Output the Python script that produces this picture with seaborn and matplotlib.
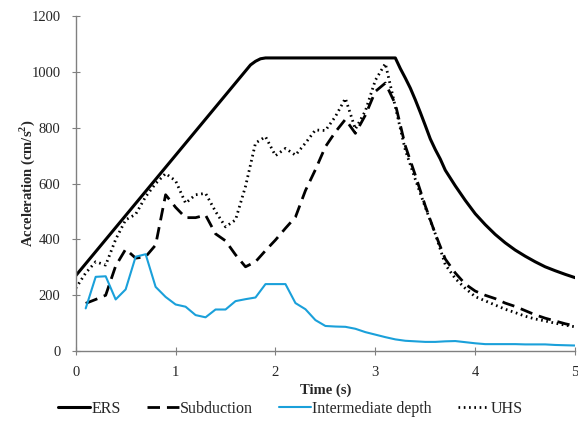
import numpy as np
import pandas as pd
import matplotlib
matplotlib.use("Agg")
import matplotlib.pyplot as plt
import seaborn as sns
from matplotlib.lines import Line2D

# ---- data ----
ers_t = [0.0, 1.75, 1.8, 1.85, 1.9, 3.2, 3.25, 3.3, 3.35, 3.4, 3.45, 3.5, 3.55, 3.6,
         3.65, 3.7, 3.8, 3.9, 4.0, 4.1, 4.2, 4.3, 4.4, 4.5, 4.6, 4.7, 4.8, 4.9, 5.0]
ers_v = [270, 1025, 1038, 1047, 1050, 1050, 1012, 978, 942, 900, 855, 808, 760, 722,
         688, 648, 592, 540, 492, 453, 418, 388, 362, 340, 320, 302, 288, 275, 263]

sub_t = [round(0.1 * i, 1) for i in range(1, 51)]
sub_v = [171, 185, 200, 305, 365, 333, 338, 380, 560, 515,
         478, 478, 487, 420, 395, 345, 302, 320, 360, 398,
         440, 480, 575, 650, 732, 785, 830, 780, 845, 930,
         960, 885, 735, 630, 520, 420, 330, 280, 240, 215,
         200, 188, 172, 160, 145, 130, 118, 108, 98, 90]

int_t = [round(0.1 * i, 1) for i in range(1, 51)]
int_v = [153, 266, 268, 185, 221, 338, 347, 230, 194, 167,
         159, 129, 121, 149, 149, 179, 186, 192, 240, 240,
         240, 172, 150, 111, 90, 88, 87, 80, 68, 59,
         50, 42, 37, 35, 33, 33, 35, 36, 32, 28,
         25, 25, 25, 25, 24, 24, 24, 22, 21, 20]

uhs_t = [round(0.1 * i, 1) for i in range(0, 51)]
uhs_v = [225, 280, 320, 308, 400, 470, 490, 553, 600, 636,
         610, 530, 560, 565, 500, 445, 470, 590, 745, 768,
         700, 726, 702, 745, 792, 790, 840, 905, 795, 860,
         970, 1030, 875, 720, 615, 515, 420, 310, 260, 225,
         195, 180, 165, 150, 138, 125, 115, 108, 100, 93, 87]

labels = ["ERS", "Subduction", "Intermediate depth", "UHS"]

sns.set_style("ticks")
plt.rcParams["font.family"] = ["Liberation Serif", "DejaVu Serif"]
plt.rcParams["mathtext.fontset"] = "custom"
plt.rcParams["mathtext.rm"] = "Liberation Serif"
plt.rcParams["mathtext.bf"] = "Liberation Serif:bold"

fig = plt.figure(figsize=(5.78, 4.34), dpi=100)
ax = fig.add_axes([0.131, 0.191, 0.864, 0.772])

blue = "#1aa0da"
SUB_DASH = (4.5, 2.5)
UHS_DOT = (0.6, 1.3)
specs = [
    (ers_t, ers_v, dict(color="black", lw=2.2), None),
    (sub_t, sub_v, dict(color="black", lw=2.0), SUB_DASH),
    (int_t, int_v, dict(color=blue, lw=1.5), None),
    (uhs_t, uhs_v, dict(color="black", lw=2.0), UHS_DOT),
]
for (t, v, st, dashes), lab in zip(specs, labels):
    df = pd.DataFrame({"t": t, "v": v})
    sns.lineplot(data=df, x="t", y="v", ax=ax, label=lab, **st)
    if dashes is not None:
        ax.lines[-1].set_dashes(dashes)

ax.set_xlim(0, 5)
ax.set_ylim(0, 1200)
ax.set_xticks(range(0, 6))
ax.set_yticks(range(0, 1201, 200))
ax.tick_params(direction="inout", length=6, width=0.8, color="#808080",
               labelsize=10.5, pad=8)
for s in ["top", "right"]:
    ax.spines[s].set_visible(False)
for s in ["left", "bottom"]:
    ax.spines[s].set_color("#808080")
    ax.spines[s].set_linewidth(1.0)

ax.set_xlabel("Time (s)", fontsize=10.5, fontweight="bold", labelpad=3)
ax.set_ylabel(r"Acceleration (cm/s$^{\mathbf{2}}$)", fontsize=10.5, fontweight="bold", labelpad=-4)

if ax.legend_:
    ax.legend_.remove()
handles = [
    Line2D([], [], color="black", lw=2.2),
    Line2D([], [], color="black", lw=2.0, dashes=SUB_DASH),
    Line2D([], [], color=blue, lw=1.5),
    Line2D([], [], color="black", lw=2.0, dashes=UHS_DOT),
]
fig.legend(handles, labels, loc="center", bbox_to_anchor=(0.503, 0.058), ncol=4,
           frameon=False, fontsize=11.5, handlelength=2.0, handletextpad=0.1,
           columnspacing=1.6)

fig.savefig("out.png", dpi=100)
